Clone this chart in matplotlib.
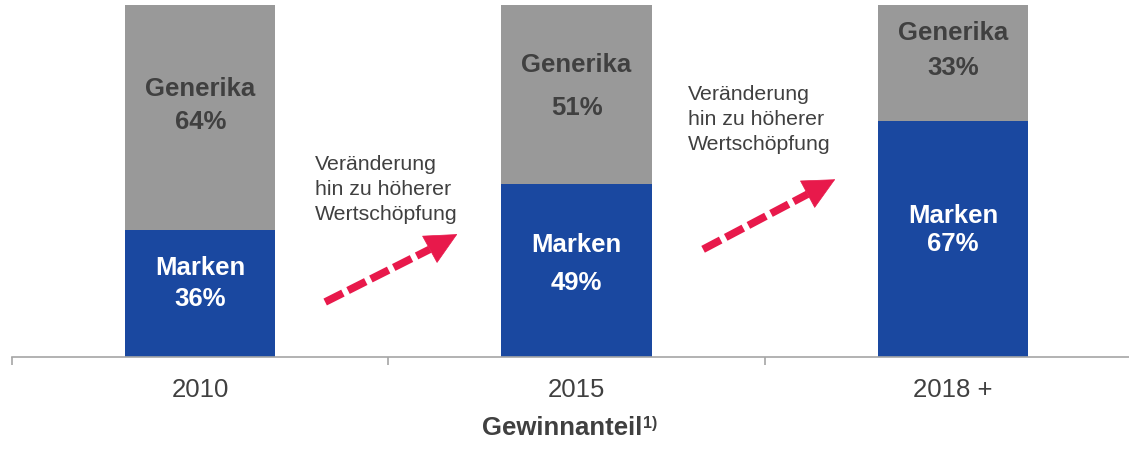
import matplotlib
matplotlib.use("Agg")
import matplotlib.pyplot as plt
from matplotlib.ticker import FixedLocator

plt.rcParams['font.family'] = ['Liberation Sans', 'DejaVu Sans']

# ---- data ----
categories = ["2010", "2015", "2018 +"]
marken = [36, 49, 67]
generika = [64, 51, 33]
marken_name = "Marken"
generika_name = "Generika"
annotation_text = "Veränderung\nhin zu höherer\nWertschöpfung"
xlabel_text = "Gewinnanteil"
xlabel_sup = "1)"

# ---- style ----
BLUE = "#1A48A0"
GRAY = "#999999"
DARK = "#404040"
ARROW = "#E8194B"
AXIS = "#A6A6A6"
PX = 72 / 100  # points per pixel at dpi 100

# label baseline offsets from segment centers (pixels, +down): (name, pct)
gen_offsets = [(-22, 11), (-23.5, 19.5), (-23.5, 11.5)]
mar_offsets = [(-19, 12), (-19, 19), (-17, 11)]

fig = plt.figure(figsize=(11.29, 4.52), dpi=100)
ax = fig.add_axes([12 / 1129, (452 - 357.5) / 452, 1117 / 1129, 357.5 / 452])
ax.set_xlim(-0.5, 2.4675)
ax.set_ylim(0, 357.5 / 351.5 * 100)

x = list(range(len(categories)))
ax.bar(x, marken, width=0.4, color=BLUE, zorder=2)
ax.bar(x, generika, width=0.4, bottom=marken, color=GRAY, zorder=2)

for i in x:
    cy = marken[i] + generika[i] / 2
    for txt, off in zip([generika_name, f"{generika[i]}%"], gen_offsets[i]):
        ax.annotate(txt, (i, cy), xytext=(0, -off * PX), textcoords="offset points",
                    ha="center", va="baseline", fontsize=18.5, fontweight="bold", color=DARK)
    cy = marken[i] / 2
    for txt, off in zip([marken_name, f"{marken[i]}%"], mar_offsets[i]):
        ax.annotate(txt, (i, cy), xytext=(0, -off * PX), textcoords="offset points",
                    ha="center", va="baseline", fontsize=18.5, fontweight="bold", color="white")

# spines / ticks
for s in ["left", "right", "top"]:
    ax.spines[s].set_visible(False)
ax.spines["bottom"].set_color(AXIS)
ax.spines["bottom"].set_linewidth(1.2)
ax.set_yticks([])
ax.set_xticks(x)
ax.set_xticklabels(categories, fontsize=18.5, color=DARK)
ax.tick_params(axis="x", which="major", length=0, pad=15)
ax.xaxis.set_minor_locator(FixedLocator([-0.5, 0.5, 1.5, 2.5]))
ax.tick_params(axis="x", which="minor", length=6, width=1.2, color=AXIS, direction="out")

# arrows (tail, head base, tip) in data coords
arrows = [((0.332, 15.5), (0.610, 30.5), (0.683, 34.8)),
          ((1.336, 30.5), (1.614, 46.2), (1.687, 50.4))]
for tail, base, tip in arrows:
    ax.plot([tail[0], base[0]], [tail[1], base[1]], color=ARROW, lw=5.5,
            linestyle=(0, (2.6, 0.75)), solid_capstyle="butt", dash_capstyle="butt", zorder=3)
    ax.annotate("", xy=tip, xytext=base,
                arrowprops=dict(arrowstyle="-|>,head_length=2.2,head_width=1.08",
                                color=ARROW, lw=0.5, shrinkA=0, shrinkB=0), zorder=3)

# annotation texts
ax.text(0.305, 57.6, annotation_text, ha="left", va="top", fontsize=15.3,
        color=DARK, linespacing=1.4)
ax.text(1.296, 77.5, annotation_text, ha="left", va="top", fontsize=15.3,
        color=DARK, linespacing=1.4)

# x label with superscript
fig.text(642 / 1129, 1 - 435 / 452, xlabel_text, ha="right", va="baseline",
         fontsize=18.5, fontweight="bold", color=DARK)
fig.text(643 / 1129, 1 - 428 / 452, xlabel_sup, ha="left", va="baseline",
         fontsize=11.5, fontweight="bold", color=DARK)

fig.savefig("out.png", dpi=100)
